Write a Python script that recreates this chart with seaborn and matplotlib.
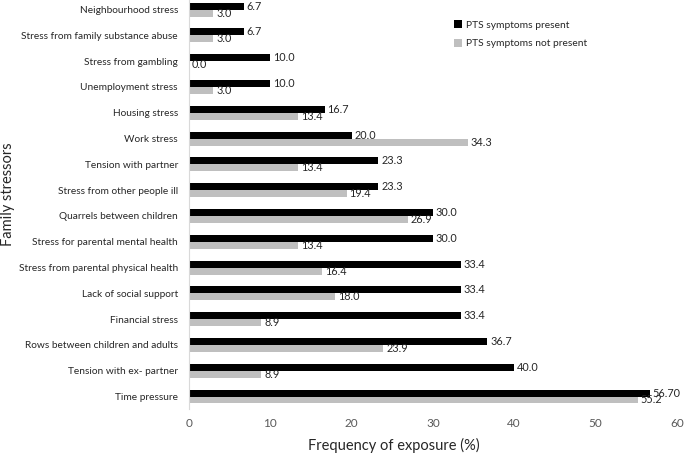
import numpy as np
import pandas as pd
import matplotlib
matplotlib.use('Agg')
import matplotlib.pyplot as plt
import seaborn as sns

stressors = ['Neighbourhood stress', 'Stress from family substance abuse', 'Stress from gambling',
             'Unemployment stress', 'Housing stress', 'Work stress', 'Tension with partner',
             'Stress from other people ill', 'Quarrels between children',
             'Stress for parental mental health', 'Stress from parental physical health',
             'Lack of social support', 'Financial stress', 'Rows between children and adults',
             'Tension with ex- partner', 'Time pressure']
present = [6.7, 6.7, 10.0, 10.0, 16.7, 20.0, 23.3, 23.3, 30.0, 30.0, 33.4, 33.4, 33.4, 36.7, 40.0, 56.70]
not_present = [3.0, 3.0, 0.0, 3.0, 13.4, 34.3, 13.4, 19.4, 26.9, 13.4, 16.4, 18.0, 8.9, 23.9, 8.9, 55.2]
groups = ['PTS symptoms present', 'PTS symptoms not present']
colors = ['#000000', '#bfbfbf']

df = pd.DataFrame({
    'stressor': stressors * 2,
    'value': present + not_present,
    'group': [groups[0]] * len(stressors) + [groups[1]] * len(stressors),
})

sns.set_style('white')
plt.rcParams['font.family'] = ['Lato', 'DejaVu Sans']

fig = plt.figure(figsize=(6.85, 4.55), dpi=100)
ax = fig.add_axes([0.276, 0.1002, 0.712, 0.907])
sns.barplot(data=df, y='stressor', x='value', hue='group', palette=colors,
            orient='h', width=0.54, order=stressors, hue_order=groups, ax=ax,
            edgecolor='none', linewidth=0)

present_txt = [f'{v:.1f}' for v in present]
present_txt[-1] = '56.70'
not_txt = [f'{v:.1f}' for v in not_present]
ax.bar_label(ax.containers[0], labels=present_txt, padding=2, fontsize=7.8, color='#262626')
ax.bar_label(ax.containers[1], labels=not_txt, padding=2, fontsize=7.8, color='#262626')

ax.set_xlim(0, 60)
ax.set_xticks(range(0, 61, 10))
ax.tick_params(axis='x', length=0, labelsize=8.5, labelcolor='#595959', pad=6)
ax.tick_params(axis='y', length=0, labelsize=7.3, labelcolor='#262626', pad=8)
ax.set_xlabel('Frequency of exposure (%)', fontsize=10.5, color='#262626')
ax.xaxis.set_label_coords(0.42, -0.069)
ax.set_ylabel('Family stressors', fontsize=10.5, color='#262626')
ax.yaxis.set_label_coords(-0.357, 0.522)
for s in ['top', 'right', 'bottom']:
    ax.spines[s].set_visible(False)
ax.spines['left'].set_color('#d9d9d9')

ax.legend(loc='upper left', bbox_to_anchor=(0.657, 0.964), bbox_transform=fig.transFigure,
          frameon=False, fontsize=7.4, handlelength=0.75, handleheight=0.75, handletextpad=0.4,
          labelspacing=0.9, borderaxespad=0)

fig.savefig('out.png', dpi=100)
